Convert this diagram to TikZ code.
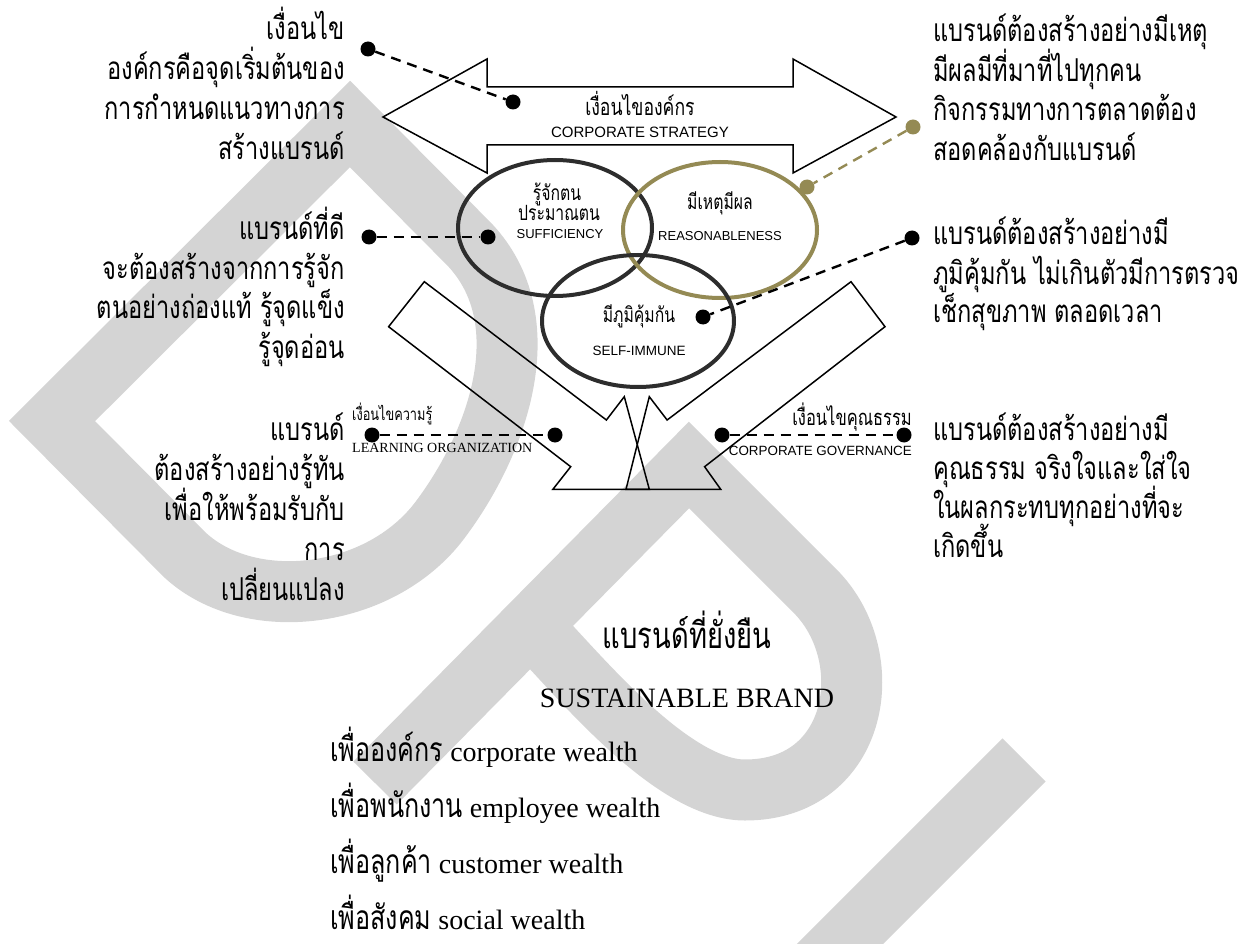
\documentclass[tikz,border=0pt]{standalone}
\usepackage{fontspec}
\setmainfont{Liberation Serif}
\newfontfamily\arial{Liberation Sans}
\newfontfamily\thai[Script=Thai,FakeStretch=0.75]{Loma}
\usepackage{tikz}
\usetikzlibrary{shapes.geometric}
\definecolor{wmgray}{RGB}{212,212,212}
\definecolor{ringdark}{RGB}{45,45,45}
\definecolor{ringtan}{RGB}{148,138,84}

\begin{document}
\begin{tikzpicture}[x=1pt,y=-1pt,line join=round,
  wm/.style={draw=wmgray,line width=61pt,line join=miter},
  outline/.style={draw=black,line width=1.5pt,line join=miter},
  ring/.style={ellipse,draw=ringdark,line width=4pt,inner sep=0pt,
    minimum width=194pt,minimum height=136pt},
  dot/.style={circle,fill=black,inner sep=0pt,minimum size=15pt},
  link/.style={line width=2.4pt,dash pattern=on 10pt off 7pt},
  lcol/.style={anchor=base east,inner sep=0pt,font=\fontsize{31.5}{38}\thai},
  rcol/.style={anchor=base west,inner sep=0pt,font=\fontsize{31.5}{38}\thai},
  thaimid/.style={anchor=base,inner sep=0pt,font=\fontsize{21}{25}\thai},
  capsans/.style={anchor=base,inner sep=0pt,font=\fontsize{13}{15}\arial}]
  \useasboundingbox (0,0) rectangle (1251,944);

  % ---------- watermark (D, P and U strokes) ----------
  \draw[wm] (350,124) -- (52,421) -- (185,555)
    .. controls (250,615) and (380,600) .. (440,520)
    .. controls (500,440) and (540,320) .. (470,245) -- cycle;
  \draw[wm] (375,783) -- (689,465) -- (815,591)
    .. controls (880,656) and (860,790) .. (745,790)
    .. controls (680,790) and (600,700) .. (551,647) -- (530,626);
  \draw[wm] (1024,760) -- (790,994);

  % ---------- double arrow: corporate strategy ----------
  \draw[outline] (383,117) -- (487,59) -- (487,87) -- (793,87) -- (793,59)
    -- (896,117) -- (793,173) -- (793,145) -- (487,145) -- (487,173) -- cycle;
  \node[thaimid,font=\fontsize{23.5}{28}\thai] (strat) at (640,116) {เงื่อนไของค์กร};
  \node[capsans,font=\fontsize{15}{18}\arial] (stratE) at (640,138) {CORPORATE STRATEGY};

  % ---------- two crossing arrows below ----------
  \draw[outline] (388.6,326.7) -- (424.3,281.7) -- (606.4,420) -- (624.3,396.7)
    -- (649.3,489.3) -- (552.9,489.3) -- (570.7,466.7) -- cycle;
  \draw[outline] (885,326.7) -- (851,281.7) -- (667.1,420) -- (649.3,396.7)
    -- (626,489.3) -- (720.7,489.3) -- (704.6,466.7) -- cycle;

  % ---------- the three circles ----------
  \node[ring] (suff) at (555,228) {};
  \node[ring,draw=ringtan] (reas) at (720,230) {};
  \node[ring,minimum width=192pt,minimum height=132pt] (immu) at (638,321) {};
  \node[thaimid] (suff1) at (557,201) {รู้จักตน};
  \node[thaimid] (suff2) at (559,221) {ประมาณตน};
  \node[capsans] (suff3) at (560,239) {SUFFICIENCY};
  \node[thaimid] (reas1) at (720,210) {มีเหตุมีผล};
  \node[capsans] (reas2) at (720,241) {REASONABLENESS};
  \node[thaimid] (immu1) at (639,323) {มีภูมิคุ้มกัน};
  \node[capsans,font=\fontsize{13.5}{16}\arial] (immu2) at (639,355) {SELF-IMMUNE};

  % ---------- dots and dashed leaders ----------
  \node[dot] (pa) at (368,49) {};
  \node[dot] (qa) at (513,102) {};
  \node[dot] (pb) at (369,237) {};
  \node[dot] (qb) at (488,237) {};
  \node[dot,fill=ringtan] (pc) at (913,127) {};
  \node[dot,fill=ringtan] (qc) at (807,187) {};
  \node[dot] (pd) at (912,238) {};
  \node[dot] (qd) at (703,317) {};
  \node[dot] (pe) at (372,435) {};
  \node[dot] (qe) at (555,435) {};
  \node[dot] (pf) at (722,435) {};
  \node[dot] (qf) at (904,435) {};
  \draw[link] (pa) -- (qa);
  \draw[link] (pb) -- (qb);
  \draw[link,ringtan] (pc) -- (qc);
  \draw[link] (pd) -- (qd);
  \draw[link] (pe) -- (qe);
  \draw[link] (pf) -- (qf);
  \node[anchor=base west,inner sep=0pt,font=\fontsize{17}{20}\thai] (learn) at (352,420) {เงื่อนไขความรู้};
  \node[anchor=base west,inner sep=0pt,font=\fontsize{14}{16}\selectfont] (learnE) at (352,452) {LEARNING ORGANIZATION};
  \node[anchor=base east,inner sep=0pt,font=\fontsize{22}{26}\thai] (gov) at (912,425) {เงื่อนไขคุณธรรม};
  \node[anchor=base east,inner sep=0pt,font=\fontsize{13.4}{16}\arial] (govE) at (912,455) {CORPORATE GOVERNANCE};

  % ---------- left column ----------
  \foreach \t [count=\i from 0] in {เงื่อนไข,องค์กรคือจุดเริ่มต้นของ,การกำหนดแนวทางการ,สร้างแบรนด์}
    \node[lcol] (la\i) at (345,40+40*\i) {\t};
  \foreach \t [count=\i from 0] in {แบรนด์ที่ดี,จะต้องสร้างจากการรู้จัก,ตนอย่างถ่องแท้ รู้จุดแข็ง,รู้จุดอ่อน}
    \node[lcol] (lb\i) at (345,240+39.5*\i) {\t};
  \foreach \t [count=\i from 0] in {แบรนด์,ต้องสร้างอย่างรู้ทัน,เพื่อให้พร้อมรับกับ,การ,เปลี่ยนแปลง}
    \node[lcol] (lc\i) at (345,440+40*\i) {\t};

  % ---------- right column ----------
  \foreach \t [count=\i from 0] in {แบรนด์ต้องสร้างอย่างมีเหตุ,มีผลมีที่มาที่ไปทุกคน,กิจกรรมทางการตลาดต้อง,สอดคล้องกับแบรนด์}
    \node[rcol] (ra\i) at (933,42+39.5*\i) {\t};
  \foreach \t [count=\i from 0] in {แบรนด์ต้องสร้างอย่างมี,ภูมิคุ้มกัน  ไม่เกินตัวมีการตรวจ,เช็กสุขภาพ ตลอดเวลา}
    \node[rcol] (rb\i) at (933,245+39*\i) {\t};
  \foreach \t [count=\i from 0] in {แบรนด์ต้องสร้างอย่างมี,คุณธรรม จริงใจและใส่ใจ,ในผลกระทบทุกอย่างที่จะ,เกิดขึ้น}
    \node[rcol] (rc\i) at (933,440+39*\i) {\t};

  % ---------- sustainable brand ----------
  \node[anchor=base,inner sep=0pt,font=\fontsize{36.5}{42}\thai] (sus) at (687,648) {แบรนด์ที่ยั่งยืน};
  \node[anchor=base,inner sep=0pt,font=\fontsize{28}{34}\selectfont] (susE) at (687,707) {SUSTAINABLE BRAND};
  \foreach \th/\en [count=\i from 0] in {เพื่อองค์กร/corporate wealth,เพื่อพนักงาน/employee wealth,
      เพื่อลูกค้า/customer wealth,เพื่อสังคม/social wealth}
    \node[anchor=base west,inner sep=0pt,font=\fontsize{28}{34}\selectfont] (w\i) at (330,761+56*\i)
      {{\fontsize{33.5}{38}\thai\th} \en};
\end{tikzpicture}
\end{document}
